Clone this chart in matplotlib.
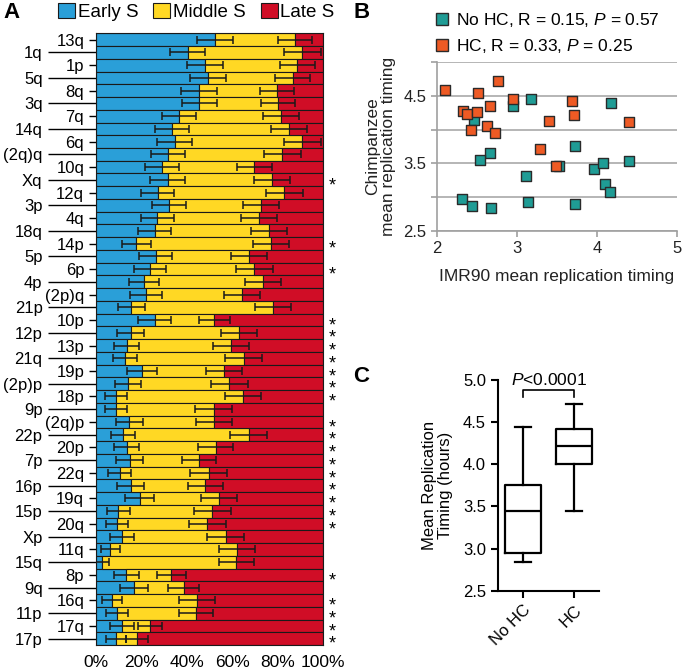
import numpy as np
import matplotlib
matplotlib.use('Agg')
import matplotlib.pyplot as plt
from matplotlib.patches import Patch
from matplotlib.lines import Line2D

plt.rcParams['font.family'] = ['Liberation Sans', 'DejaVu Sans']
plt.rcParams['mathtext.fontset'] = 'custom'
plt.rcParams['mathtext.it'] = 'Liberation Sans:italic'
plt.rcParams['mathtext.rm'] = 'Liberation Sans'

# --- Panel A : fraction of each arm replicating in early / middle / late S ---
arms = ['13q', '1q', '1p', '5q', '8q', '3q', '7q', '14q', '6q', '(2q)q', '10q', 'Xq',
        '12q', '3p', '4q', '18q', '14p', '5p', '6p', '4p', '(2p)q', '21p', '10p', '12p',
        '13p', '21q', '19p', '(2p)p', '18p', '9p', '(2q)p', '22p', '20p', '7p', '22q', '16p',
        '19q', '15p', '20q', 'Xp', '11q', '15q', '8p', '9q', '16q', '11p', '17q', '17p']
early_s = [52.4, 40.3, 48.0, 49.2, 45.5, 45.5, 36.6, 33.5, 34.6, 31.6, 29.0, 31.5,
           27.1, 32.2, 26.9, 25.8, 17.7, 26.2, 23.9, 20.9, 22.0, 15.5, 25.8, 15.2,
           13.5, 12.7, 20.1, 14.1, 8.8, 8.8, 14.6, 11.7, 13.5, 14.8, 10.4, 15.2,
           19.2, 9.8, 9.2, 11.4, 6.3, 2.6, 13.2, 16.7, 7.2, 9.2, 11.4, 8.8]
# cumulative end of the middle S segment
middle_end = [87.6, 90.8, 88.6, 86.5, 79.5, 80.2, 81.3, 84.8, 90.8, 82.0, 69.7, 77.3,
              82.9, 72.6, 71.7, 76.0, 76.9, 67.3, 69.7, 73.6, 64.3, 78.0, 52.1, 63.0,
              59.3, 65.0, 56.4, 58.7, 64.7, 51.7, 52.0, 67.1, 52.6, 45.5, 49.5, 48.0,
              54.2, 51.2, 49.0, 57.0, 62.1, 61.8, 33.1, 38.5, 44.5, 43.8, 23.7, 18.2]
early_err = [7.9, 7.7, 7.9, 7.9, 7.9, 7.8, 7.6, 7.6, 7.6, 7.5, 7.3, 7.7,
             7.2, 7.5, 7.3, 7.2, 6.4, 7.3, 7.0, 6.6, 6.9, 5.9, 7.3, 6.1,
             5.6, 5.4, 6.6, 5.6, 4.8, 4.8, 5.9, 5.3, 5.6, 5.9, 5.0, 5.9,
             6.4, 5.1, 4.9, 5.3, 4.2, 3.0, 5.5, 6.2, 4.4, 4.8, 5.1, 4.6]
middle_err = [7.6, 8.0, 7.8, 7.8, 7.5, 7.5, 8.0, 8.0, 8.0, 8.0, 7.8, 8.0,
              8.0, 7.9, 8.0, 8.0, 8.0, 7.9, 8.0, 8.0, 8.0, 8.0, 7.0, 8.0,
              8.0, 8.1, 7.8, 8.0, 8.0, 8.0, 7.8, 8.1, 7.8, 7.5, 8.0, 7.7,
              7.8, 8.0, 8.0, 8.0, 8.0, 7.9, 6.4, 6.7, 7.8, 7.5, 5.3, 4.8]
significant = ['Xq', '14p', '6p', '10p', '12p', '13p', '21q', '19p', '(2p)p', '18p',
               '(2q)p', '22p', '20p', '7p', '22q', '16p', '19q', '15p', '20q', '8p',
               '16q', '11p', '17q', '17p']

# --- Panel B : chimpanzee vs IMR90 mean replication timing ---
nohc_x = [2.46, 2.95, 3.18, 4.18, 2.67, 2.54, 3.73, 3.12, 3.53, 3.97, 4.08, 4.40,
          4.10, 4.16, 2.32, 2.44, 2.68, 3.14, 3.73]
nohc_y = [4.15, 4.35, 4.45, 4.39, 3.66, 3.55, 3.76, 3.31, 3.46, 3.41, 3.50, 3.53,
          3.20, 3.07, 2.97, 2.86, 2.84, 2.93, 2.89]
hc_x = [2.10, 2.33, 2.38, 2.51, 2.50, 2.43, 2.67, 2.77, 2.63, 2.73, 2.95, 3.40,
        3.29, 3.49, 3.69, 3.71, 4.40]
hc_y = [4.59, 4.28, 4.23, 4.55, 4.26, 3.99, 4.35, 4.72, 4.05, 3.95, 4.46, 4.13,
        3.72, 3.46, 4.42, 4.22, 4.12]

# --- Panel C : box plot summary (hours) ---
box_groups = ['No HC', 'HC']
box_min = [2.84, 3.45]
box_q1 = [2.95, 4.00]
box_med = [3.45, 4.22]
box_q3 = [3.75, 4.42]
box_max = [4.44, 4.71]

BLUE = '#2A9FD8'
YELLOW = '#FFD824'
RED = '#D00D26'
TEAL = '#1F9C95'
ORANGE = '#EE5A24'
EDGE = '#1a1a1a'

W, H = 683, 669
fig = plt.figure(figsize=(W / 100, H / 100), dpi=100)


def px_box(left, top, right, bottom):
    return [left / W, 1 - bottom / H, (right - left) / W, (bottom - top) / H]


# ================= A =================
axA = fig.add_axes(px_box(96, 33.3, 323.3, 645))
y = np.arange(len(arms))
early = np.array(early_s)
mid_end = np.array(middle_end)
axA.barh(y, early, height=1.0, color=BLUE, edgecolor=EDGE, linewidth=0.8)
axA.barh(y, mid_end - early, left=early, height=1.0, color=YELLOW, edgecolor=EDGE, linewidth=0.8)
axA.barh(y, 100 - mid_end, left=mid_end, height=1.0, color=RED, edgecolor=EDGE, linewidth=0.8)
axA.errorbar(early, y, xerr=early_err, fmt='none', ecolor=EDGE, elinewidth=1.1,
             capsize=2.6, capthick=1.1)
axA.errorbar(mid_end, y, xerr=middle_err, fmt='none', ecolor=EDGE, elinewidth=1.1,
             capsize=2.6, capthick=1.1)
axA.set_xlim(0, 100)
axA.set_ylim(len(arms) - 0.5, -0.5)
axA.set_xticks([0, 20, 40, 60, 80, 100])
axA.set_xticklabels(['0%', '20%', '40%', '60%', '80%', '100%'])
axA.tick_params(axis='x', length=0, labelsize=12.5, pad=7)
# staggered arm labels: short ticks for one half, long ticks for the other
axA.set_yticks(y[0::2])
axA.set_yticklabels(arms[0::2])
axA.set_yticks(y[1::2], minor=True)
axA.set_yticklabels(arms[1::2], minor=True)
axA.tick_params(axis='y', which='major', length=5, width=1, pad=3.5, labelsize=12)
axA.tick_params(axis='y', which='minor', length=34.5, width=1, pad=4, labelsize=12)
for s in axA.spines.values():
    s.set_linewidth(0.8)
    s.set_color(EDGE)
for i, name in enumerate(arms):
    if name in significant:
        axA.text(104, i + 0.8, '*', ha='center', va='baseline', fontsize=13, clip_on=False)

handles_A = [Patch(facecolor=BLUE, edgecolor=EDGE, linewidth=0.8),
             Patch(facecolor=YELLOW, edgecolor=EDGE, linewidth=0.8),
             Patch(facecolor=RED, edgecolor=EDGE, linewidth=0.8)]
fig.legend(handles_A, ['Early S', 'Middle S', 'Late S'], ncol=3, frameon=False,
           loc='center left', bbox_to_anchor=(58 / W, 1 - 12 / H), fontsize=13.5,
           handlelength=0.9, handleheight=0.9, handletextpad=0.15, columnspacing=0.8,
           borderpad=0, borderaxespad=0)

# ================= B =================
axB = fig.add_axes(px_box(436.7, 62.3, 677, 230.7))
axB.scatter(nohc_x, nohc_y, marker='s', s=50, color=TEAL, edgecolors='#2a2a2a',
            linewidths=1, zorder=3)
axB.scatter(hc_x, hc_y, marker='s', s=50, color=ORANGE, edgecolors='#2a2a2a',
            linewidths=1, zorder=4)
axB.set_xlim(2, 5)
axB.set_ylim(2.5, 5)
axB.set_xticks([2, 3, 4, 5])
axB.set_yticks([2.5, 3.5, 4.5])
axB.set_yticks([3.0, 4.0, 5.0], minor=True)
axB.grid(axis='y', which='both', color='#a9a9a9', linewidth=1.2)
axB.set_axisbelow(True)
for side in ['top', 'right']:
    axB.spines[side].set_visible(False)
for side in ['left', 'bottom']:
    axB.spines[side].set_color('#a0a0a0')
    axB.spines[side].set_linewidth(1.2)
axB.tick_params(which='both', colors='#a0a0a0', labelcolor='#222222', length=4,
                width=1.2, labelsize=12)
axB.set_xlabel('IMR90 mean replication timing', fontsize=12.5, labelpad=9, color='#222222')
axB.set_ylabel('Chimpanzee\nmean replication timing', fontsize=12.5, labelpad=5,
               color='#222222', linespacing=1.05)

handles_B = [Line2D([], [], ls='none', marker='s', markersize=9, markerfacecolor=TEAL,
                    markeredgecolor='#2a2a2a', markeredgewidth=1),
             Line2D([], [], ls='none', marker='s', markersize=9, markerfacecolor=ORANGE,
                    markeredgecolor='#2a2a2a', markeredgewidth=1)]
fig.legend(handles_B, ['No HC, R = 0.15, $P$ = 0.57', 'HC, R = 0.33, $P$ = 0.25'],
           frameon=False, loc='upper left', bbox_to_anchor=(433 / W, 1 - 11 / H),
           fontsize=12.5, handlelength=1.0, handletextpad=0.35, labelspacing=0.45,
           borderpad=0, borderaxespad=0)

# ================= C =================
axC = fig.add_axes(px_box(497.7, 380, 599.3, 590.7))
stats = []
for i, g in enumerate(box_groups):
    stats.append(dict(label=g, whislo=box_min[i], q1=box_q1[i], med=box_med[i],
                      q3=box_q3[i], whishi=box_max[i]))
lp = dict(color='black', linewidth=1.6)
axC.bxp(stats, positions=[1, 2], widths=0.72, capwidths=0.32, showfliers=False,
        boxprops=lp, whiskerprops=lp, capprops=lp, medianprops=lp)
axC.set_xlim(0.5, 2.5)
axC.set_ylim(2.5, 5.0)
axC.set_yticks([2.5, 3.0, 3.5, 4.0, 4.5, 5.0])
axC.set_yticklabels(['2.5', '3.0', '3.5', '4.0', '4.5', '5.0'])
axC.set_xticks([1, 2])
axC.set_xticklabels(box_groups, rotation=45, ha='right', rotation_mode='anchor')
for side in ['top', 'right']:
    axC.spines[side].set_visible(False)
for side in ['left', 'bottom']:
    axC.spines[side].set_linewidth(1.5)
axC.tick_params(length=5, width=1.5, labelsize=12)
axC.set_ylabel('Mean Replication\nTiming (hours)', fontsize=12, labelpad=7, linespacing=1.05)
axC.plot([1, 1, 2, 2], [4.80, 4.88, 4.88, 4.80], color='black', linewidth=1.2, clip_on=False)
axC.text(1.51, 4.94, '$P$<0.0001', ha='center', va='baseline', fontsize=12.5, clip_on=False)

# panel letters
fig.text(3 / W, 1 - 18.3 / H, 'A', fontsize=16, fontweight='bold', va='baseline')
fig.text(353 / W, 1 - 18.3 / H, 'B', fontsize=16, fontweight='bold', va='baseline')
fig.text(353 / W, 1 - 381.7 / H, 'C', fontsize=16, fontweight='bold', va='baseline')

fig.savefig('out.png', dpi=100)
